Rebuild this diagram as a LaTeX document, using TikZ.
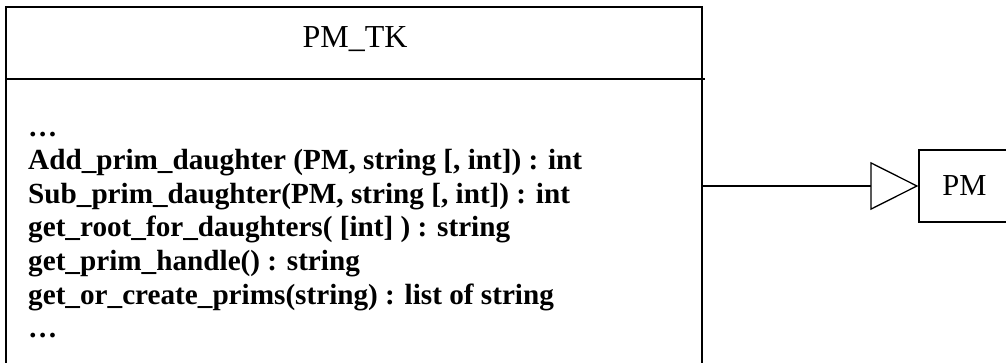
\documentclass[tikz,border=0pt]{standalone}
\usepackage{fontspec}
\setmainfont{Liberation Serif}
\usetikzlibrary{arrows.meta}
\tikzset{
  boxline/.style={draw=black, line width=1.3pt},
  classbox/.style={boxline, rectangle, inner sep=0pt},
  titletext/.style={inner sep=0pt, anchor=base, font=\fontsize{32}{38}\selectfont},
  methodtext/.style={inner sep=0pt, anchor=base west, font=\fontsize{29.2}{33.5}\selectfont\bfseries},
  pmtext/.style={font=\fontsize{30.5}{36}\selectfont},
  inherit/.style={line width=1.3pt, -{Triangle[open, length=48pt, width=48pt, line width=1.3pt]}}
}
\begin{document}
\begin{tikzpicture}[x=1pt, y=-1pt]
\useasboundingbox (0,0) rectangle (1006,363);
\clip (0,0) rectangle (1006,363);
% main class box (extends below the picture)
\node[classbox, minimum width=696pt, minimum height=366pt] (tk) at (354,190) {};
\coordinate (divL) at (6,79);
\coordinate (divR) at (705,79);
\draw[boxline] (divL) -- (divR);
\node[titletext] (title) at (355,48) {PM\_TK};
\node[methodtext] (m1) at (28,137) {…};
\node[methodtext] (m2) at (28,170) {Add\_prim\_daughter (PM, string [, int]) : int};
\node[methodtext] (m3) at (28,203.5) {Sub\_prim\_daughter(PM, string [, int]) : int};
\node[methodtext] (m4) at (28,237) {get\_root\_for\_daughters( [int] ) : string};
\node[methodtext] (m5) at (28,270.5) {get\_prim\_handle() : string};
\node[methodtext] (m6) at (28,304) {get\_or\_create\_prims(string) : list of string};
\node[methodtext] (m7) at (28,337.5) {…};
% PM box
\node[classbox, pmtext, minimum width=91pt, minimum height=72pt] (pm) at (964.5,186) {PM};
\draw[inherit] (tk.east |- pm.west) -- (pm.west);
\end{tikzpicture}
\end{document}
